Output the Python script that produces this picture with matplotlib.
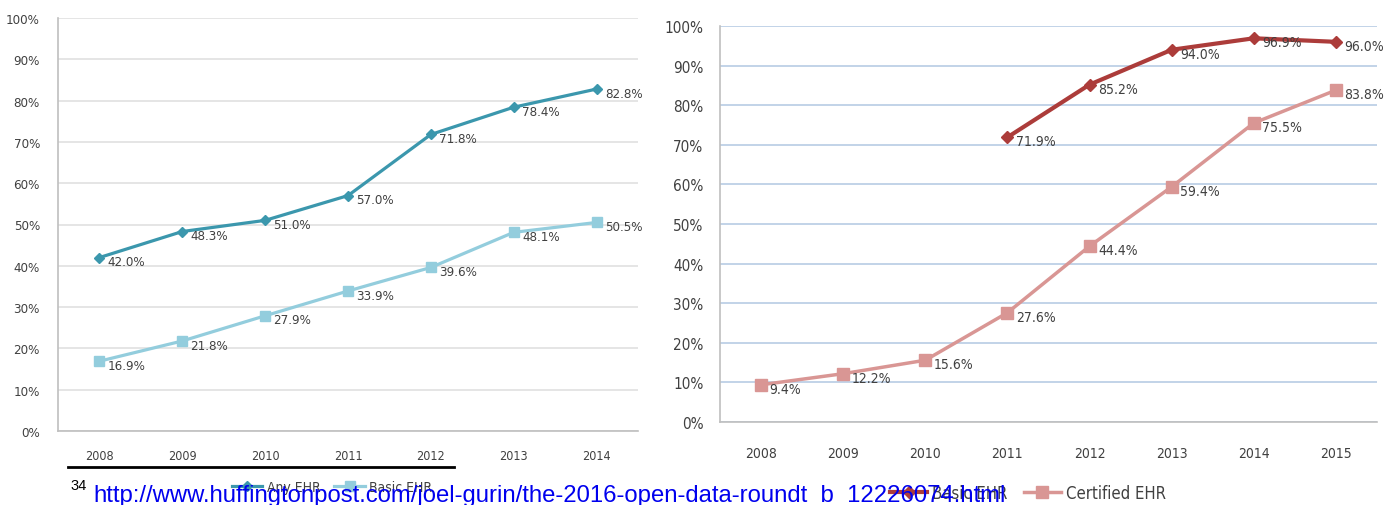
import matplotlib.pyplot as plt
import numpy as np

years_left = ['2008', '2009', '2010', '2011', '2012', '2013', '2014']
any_ehr = [42.0, 48.3, 51.0, 57.0, 71.8, 78.4, 82.8]
basic_ehr_left = [16.9, 21.8, 27.9, 33.9, 39.6, 48.1, 50.5]

years_right = ['2008', '2009', '2010', '2011', '2012', '2013', '2014', '2015']
basic_ehr_right = [np.nan, np.nan, np.nan, 71.9, 85.2, 94.0, 96.9, 96.0]
certified_ehr = [9.4, 12.2, 15.6, 27.6, 44.4, 59.4, 75.5, 83.8]

yticks = list(range(0, 101, 10))
ytick_labels = [f'{v}%' for v in yticks]

plt.rcParams['font.family'] = ['DejaVu Sans']
plt.rcParams['font.stretch'] = 'condensed'
txt_col = '#404040'

fig = plt.figure(figsize=(13.88, 5.06), dpi=100)


def style_axes(ax, ncat, grid_col, xfs, yfs):
    ax.set_xlim(-0.5, ncat - 0.5)
    ax.set_ylim(0, 100)
    ax.set_yticks(yticks)
    ax.set_yticklabels(ytick_labels)
    ax.yaxis.grid(True, color=grid_col, lw=1.2)
    ax.set_axisbelow(True)
    for s in ['top', 'right']:
        ax.spines[s].set_visible(False)
    ax.spines['left'].set_color('#bfbfbf')
    ax.spines['bottom'].set_color('#bfbfbf')
    ax.spines['left'].set_linewidth(1.2)
    ax.spines['bottom'].set_linewidth(1.2)
    ax.tick_params(axis='both', length=0, colors=txt_col)
    ax.tick_params(axis='x', labelsize=xfs)
    ax.tick_params(axis='y', labelsize=yfs)


def label_points(ax, values, fs):
    for i, v in enumerate(values):
        if np.isnan(v):
            continue
        ax.annotate(f'{v:.1f}%', (i, v), xytext=(6, -3), textcoords='offset points',
                    ha='left', va='center', fontsize=fs, color=txt_col)


# left chart
ax1 = fig.add_axes([58 / 1388, 1 - 432 / 506, 580 / 1388, 413 / 506])
x1 = np.arange(len(years_left))
ax1.plot(x1, any_ehr, color='#3b97ad', lw=2.3, marker='D', ms=5, label='Any EHR')
ax1.plot(x1, basic_ehr_left, color='#93cddd', lw=2.3, marker='s', ms=7, label='Basic EHR')
style_axes(ax1, len(years_left), '#e0e0e0', 9, 9.5)
ax1.set_xticks(x1)
ax1.set_xticklabels(years_left)
ax1.tick_params(axis='y', pad=13)
ax1.tick_params(axis='x', pad=13)
label_points(ax1, any_ehr, 9.5)
label_points(ax1, basic_ehr_left, 9.5)
ax1.legend(loc='center', bbox_to_anchor=(332 / 1388, 1 - 488 / 506), bbox_transform=fig.transFigure,
           ncol=2, frameon=False, fontsize=10, handlelength=2.2, columnspacing=1.0,
           handletextpad=0.3, labelcolor=txt_col)

# right chart
ax2 = fig.add_axes([720 / 1388, 1 - 423 / 506, 657 / 1388, 396 / 506])
x2 = np.arange(len(years_right))
ax2.plot(x2, basic_ehr_right, color='#ac3c3a', lw=3, marker='D', ms=6, label='Basic EHR')
ax2.plot(x2, certified_ehr, color='#d99694', lw=2.5, marker='s', ms=9, label='Certified EHR')
style_axes(ax2, len(years_right), '#b8cce4', 10, 11)
ax2.set_xticks(x2)
ax2.set_xticklabels(years_right)
ax2.tick_params(axis='y', pad=12)
ax2.tick_params(axis='x', pad=17)
label_points(ax2, basic_ehr_right, 10)
label_points(ax2, certified_ehr, 10)
ax2.legend(loc='center', bbox_to_anchor=(1028 / 1388, 1 - 494 / 506), bbox_transform=fig.transFigure,
           ncol=2, frameon=False, fontsize=12, handlelength=2.2, columnspacing=1.0,
           handletextpad=0.3, labelcolor=txt_col)

# footnote
fig.add_artist(plt.Line2D([68 / 1388, 454 / 1388], [1 - 468 / 506, 1 - 468 / 506],
                          color='black', lw=2))
fig.text(70 / 1388, 1 - 486 / 506, '34', fontsize=10.5, family='Liberation Sans',
         stretch='normal', color='black', va='center', zorder=10)
fig.text(93 / 1388, 1 - 496 / 506,
         'http://www.huffingtonpost.com/joel-gurin/the-2016-open-data-roundt_b_12226074.html',
         fontsize=17.2, family='Liberation Sans', stretch='normal', color='#0000ee',
         va='center', zorder=10)

fig.savefig('out.png', dpi=100)
